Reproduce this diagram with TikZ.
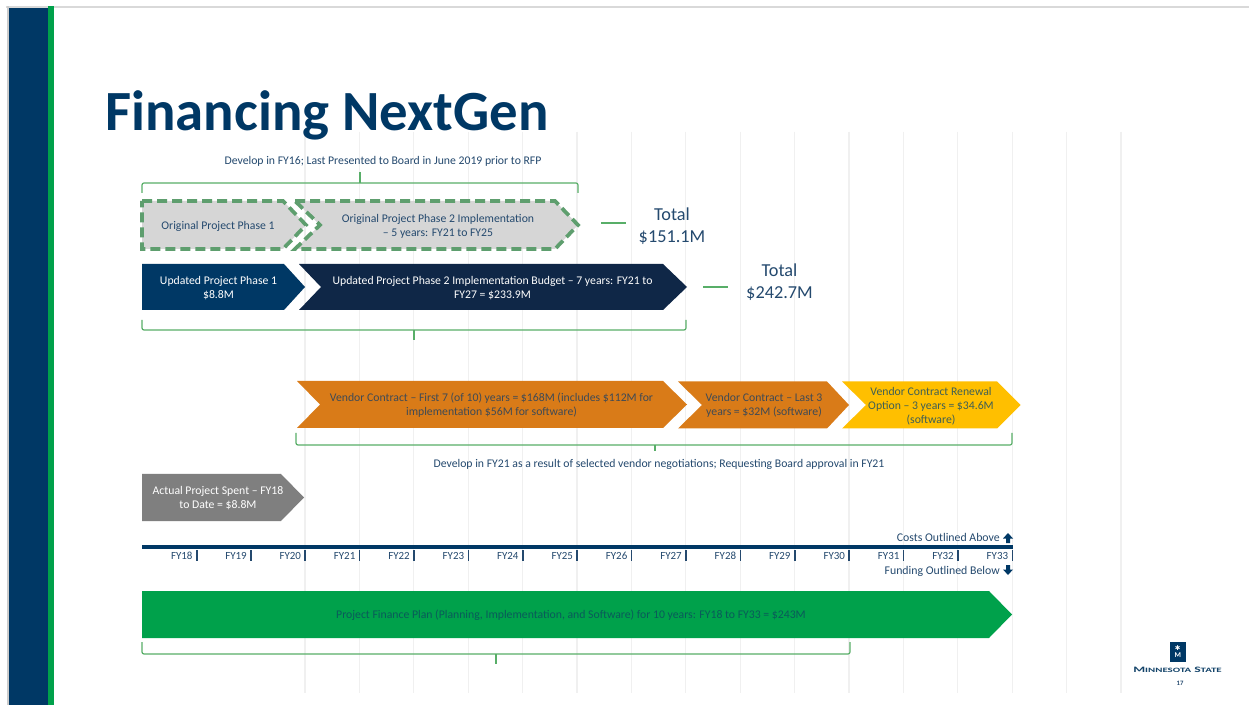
\documentclass[tikz,border=0pt]{standalone}
\usepackage{fontspec}
\setmainfont{Carlito}
\newfontfamily\arrowfont{DejaVu Sans}
\definecolor{navy}{HTML}{003865}
\definecolor{darknavy}{HTML}{0F2747}
\definecolor{msgreen}{HTML}{00A14B}
\definecolor{bracegreen}{HTML}{58AE68}
\definecolor{dashgreen}{HTML}{5E9E6E}
\definecolor{paleg}{HTML}{D6D6D6}
\definecolor{orangebar}{HTML}{D97B18}
\definecolor{yellowbar}{HTML}{FFBF00}
\definecolor{graybar}{HTML}{7F7F7F}
\definecolor{labelblue}{HTML}{24496E}
\definecolor{gridc}{HTML}{F0F0F0}
\definecolor{ontext}{HTML}{3F4A55}
\definecolor{ongold}{HTML}{3F5F55}
\definecolor{ongreen}{HTML}{0A5A5A}
\tikzset{
  x=0.75pt,y=-0.75pt,
  lbl/.style={font=\fontsize{8.8}{10.6}\selectfont,align=center,inner sep=0pt,text=labelblue},
  wlbl/.style={lbl,text=white},
  fy/.style={font=\fontsize{8.2}{9}\selectfont,inner sep=0pt,text=labelblue,anchor=east},
  note/.style={font=\fontsize{8.85}{10}\selectfont,inner sep=0pt,text=labelblue,anchor=east},
  totallbl/.style={font=\fontsize{13.7}{16.5}\selectfont,align=center,inner sep=0pt,text=labelblue},
  bracket/.style={draw=bracegreen,line width=0.9pt,rounded corners=1.5pt},
  gridline/.style={draw=gridc,line width=0.9pt},
  tickmark/.style={draw=labelblue,line width=1.3pt},
  dashbox/.style={fill=paleg,draw=dashgreen,line width=2.8pt,dash pattern=on 7.5pt off 3.75pt},
}
\begin{document}
\begin{tikzpicture}
\useasboundingbox (0,0) rectangle (1249,705);
\fill[white] (0,0) rectangle (1249,705);
% slide frame
\fill[gray!30] (6,6) rectangle (1249,8);
\fill[gray!40] (7,6) rectangle (9,705);
\fill[navy] (9,8) rectangle (48,705);
\fill[msgreen] (48,6) rectangle (54,705);
% grid
\foreach \gx in {305,359.4,413.8,468.2,522.6,577,631.4,685.8,740.2,794.6,849,903.4,957.8,1012.2,1066.6,1121}
  \draw[gridline] (\gx,132) -- (\gx,693);
% title
\node[font=\fontsize{42.6}{46}\bfseries\selectfont,text=navy,inner sep=0pt,anchor=west] (title) at (105,115) {Financing NextGen};
% first group
\node[lbl] (devtop) at (383,161) {Develop in FY16; Last Presented to Board in June 2019 prior to RFP};
\draw[bracket] (142,193) -- (142,183) -- (578,183) -- (578,193);
\draw[bracket] (360,172) -- (360,183);
\draw[dashbox] (142,201) -- (283,201) -- (306,225) -- (283,249) -- (142,249) -- cycle;
\draw[dashbox] (295,201) -- (555,201) -- (578,225) -- (555,249) -- (295,249) -- (320,225) -- cycle;
\node[lbl] (orig1) at (218,226) {Original Project Phase 1};
\node[lbl] (orig2) at (438,226) {Original Project Phase 2 Implementation\\– 5 years: FY21 to FY25};
\fill[navy] (142,264) -- (284,264) -- (305,287) -- (284,310) -- (142,310) -- cycle;
\fill[darknavy] (299,264) -- (663,264) -- (687,287) -- (663,310) -- (299,310) -- (321,287) -- cycle;
\node[wlbl] (upd1) at (218.5,288.5) {Updated Project Phase 1\\\$8.8M};
\node[wlbl] (upd2) at (492.5,288.5) {Updated Project Phase 2 Implementation Budget – 7 years: FY21 to\\FY27 = \$233.9M};
\draw[bracket] (142,320) -- (142,330) -- (686,330) -- (686,320);
\draw[bracket] (414,330) -- (414,340);
% totals
\coordinate (t1a) at (601,223); \coordinate (t1b) at (626,223);
\draw[bracegreen,line width=1pt] (t1a) -- (t1b);
\node[totallbl] (tot1) at (672,226) {Total\\\$151.1M};
\coordinate (t2a) at (703,287); \coordinate (t2b) at (728,287);
\draw[bracegreen,line width=1pt] (t2a) -- (t2b);
\node[totallbl] (tot2) at (779.5,282) {Total\\\$242.7M};
% vendor
\fill[orangebar] (297,381) -- (663,381) -- (687,404.5) -- (663,428) -- (297,428) -- (320,404.5) -- cycle;
\fill[orangebar] (678,381.5) -- (827,381.5) -- (849,405) -- (827,428.5) -- (678,428.5) -- (702,405) -- cycle;
\fill[yellowbar] (842,381.5) -- (997,381.5) -- (1020.5,405) -- (997,428.5) -- (842,428.5) -- (866,405) -- cycle;
\node[lbl,text=ontext] (v1) at (491.5,405.5) {Vendor Contract – First 7 (of 10) years = \$168M (includes \$112M for\\implementation \$56M for software)};
\node[lbl,text=ontext] (v2) at (764,405.5) {Vendor Contract – Last 3\\years = \$32M (software)};
\node[lbl,text=ongold] (v3) at (931,406) {Vendor Contract Renewal\\Option – 3 years = \$34.6M\\(software)};
\draw[bracket] (296,433) -- (296,445) -- (1012,445) -- (1012,433);
\draw[bracket] (655,445) -- (655,451);
\node[lbl] (devmid) at (659,464) {Develop in FY21 as a result of selected vendor negotiations; Requesting Board approval in FY21};
% actual
\fill[graybar] (142,474) -- (281,474) -- (304,497.5) -- (281,521) -- (142,521) -- cycle;
\node[wlbl] (act) at (218,498.5) {Actual Project Spent – FY18\\to Date = \$8.8M};
% timeline
\node[note] (costs) at (1000,537.5) {Costs Outlined Above};
\fill[navy] (1008,533) -- (1013,538.5) -- (1010,538.5) -- (1010,543) -- (1006,543) -- (1006,538.5) -- (1003,538.5) -- cycle;
\draw[navy,line width=3pt] (142,547) -- (1013,547);
\foreach \n/\tx in {18/196.7,19/251,20/305.2,21/359.6,22/414,23/468.4,24/522.8,25/577.2,26/631.6,27/686,28/740.4,29/794.8,30/849.2,31/903.6,32/958,33/1012.4}{
  \draw[tickmark] (\tx,550) -- (\tx,561);
  \node[fy] (fy\n) at (\tx-4,555.5) {FY\n};
}
\node[note] (fund) at (1000,571.5) {Funding Outlined Below};
\fill[navy] (1008,575) -- (1013,569.5) -- (1010,569.5) -- (1010,565) -- (1006,565) -- (1006,569.5) -- (1003,569.5) -- cycle;
% green bar
\fill[msgreen] (142,591) -- (989,591) -- (1012,614.5) -- (989,638) -- (142,638) -- cycle;
\node[lbl,text=ongreen] (plan) at (571,615.5) {Project Finance Plan (Planning, Implementation, and Software) for 10 years: FY18 to FY33 = \$243M};
\draw[bracket] (142,642) -- (142,654) -- (850,654) -- (850,642);
\draw[bracket] (496,654) -- (496,664);
% logo
\fill[navy] (1170,642) rectangle (1185.5,662);
\node[text=white,inner sep=0pt,font=\fontsize{5.5}{5.5}\bfseries\selectfont] (logom) at (1177.7,655) {M};
\node[inner sep=0pt,text=white,font=\arrowfont\fontsize{5}{5}\selectfont] (logos) at (1177.7,648) {✱};
\node[inner sep=0pt,text=navy!85!gray,font=\fontsize{6.2}{7}\bfseries\selectfont] (logot) at (1177.5,670) {\scalebox{1.65}[1]{M\scalebox{0.8}{INNESOTA} S\scalebox{0.8}{TATE}}};
\node[inner sep=0pt,text=labelblue,font=\fontsize{5}{6}\bfseries\selectfont] (pg) at (1180,683) {17};
\end{tikzpicture}
\end{document}
